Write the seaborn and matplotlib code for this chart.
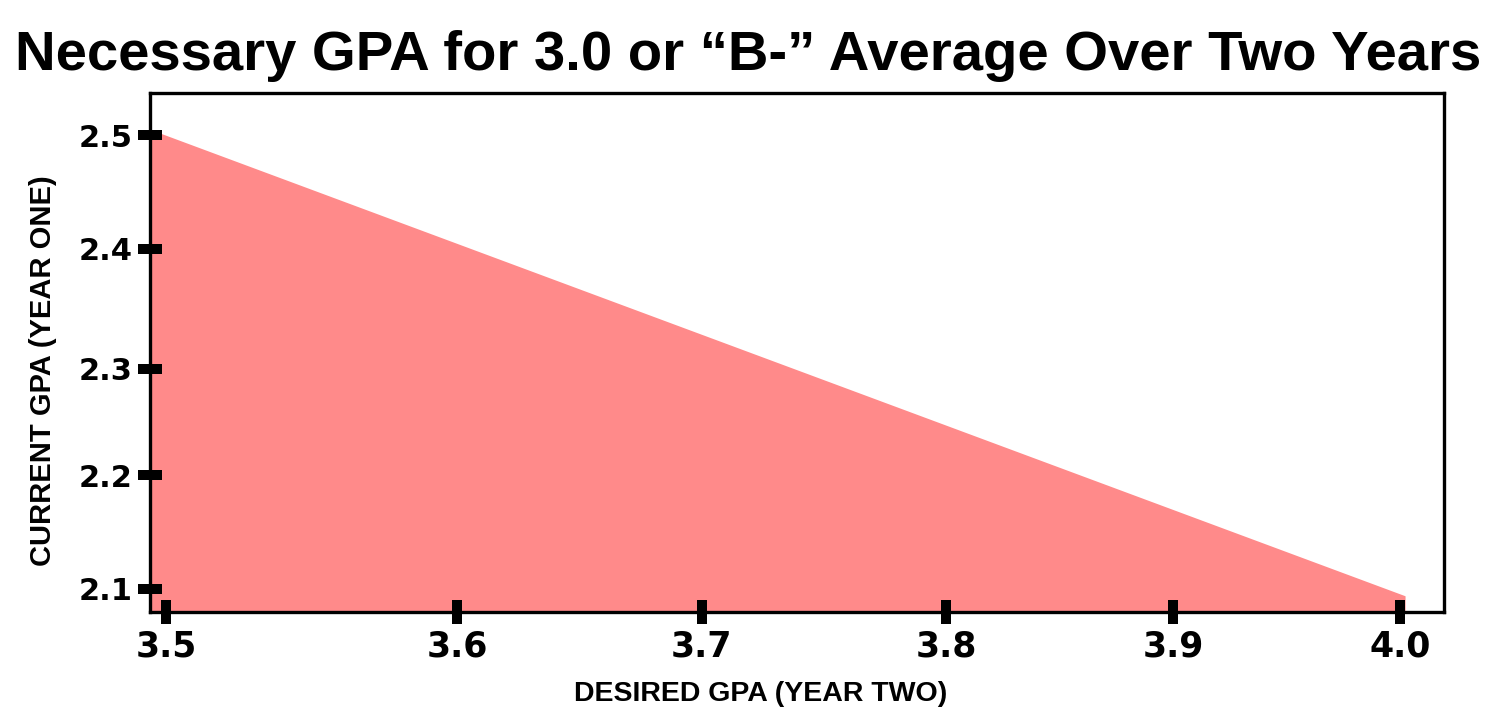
import matplotlib
matplotlib.use("Agg")
import matplotlib.pyplot as plt
import seaborn as sns
import pandas as pd

# desired GPA in year two vs. current GPA needed in year one
desired_gpa = [3.4935, 4.002]
current_gpa = [2.505, 2.094]

x_tick_pos = [3.5, 3.618, 3.717, 3.816, 3.908, 4.0]
x_tick_labels = ["3.5", "3.6", "3.7", "3.8", "3.9", "4.0"]
y_tick_pos = [2.1, 2.2, 2.294, 2.4, 2.5]
y_tick_labels = ["2.1", "2.2", "2.3", "2.4", "2.5"]

df = pd.DataFrame({"desired": desired_gpa, "current": current_gpa})

sns.set_style("white")
plt.rcParams['font.family'] = ['Liberation Sans', 'DejaVu Sans']
plt.rcParams['text.color'] = 'black'
plt.rcParams['axes.labelcolor'] = 'black'
plt.rcParams['xtick.color'] = 'black'
plt.rcParams['ytick.color'] = 'black'

fig = plt.figure(figsize=(15, 7.2), dpi=100)
ax = fig.add_axes([0.1, 0.15, 0.8627, 0.7208])
ax.set_axisbelow(False)

ymin = 2.0797
sns.lineplot(data=df, x="desired", y="current", ax=ax, color="#ff8a8a", linewidth=0)
ax.fill_between(df["desired"], df["current"], ymin, color="#ff8a8a", linewidth=0, zorder=1)

ax.set_xlim(3.4935, 4.0178)
ax.set_ylim(ymin, 2.537)

ax.set_xticks(x_tick_pos)
ax.set_xticklabels(x_tick_labels, fontsize=25, fontweight="bold", family=["DejaVu Sans"])
ax.set_yticks(y_tick_pos)
ax.set_yticklabels(y_tick_labels, fontsize=22, fontweight="bold", family=["DejaVu Sans"])
ax.tick_params(axis="both", bottom=True, left=True, direction="inout",
               length=17, width=7.2, color="black", labelcolor="black", pad=4)

for s in ax.spines.values():
    s.set_linewidth(2.4)
    s.set_color("black")
    s.set_zorder(3)

ax.set_xlabel("DESIRED GPA (YEAR TWO)", fontsize=20.5, fontweight="bold")
ax.set_ylabel("CURRENT GPA (YEAR ONE)", fontsize=21, fontweight="bold")
ax.xaxis.set_label_coords(0.4718, -0.133)
ax.yaxis.set_label_coords(-0.072, 0.466)

fig.text(0.4985, 0.922, "Necessary GPA for 3.0 or \u201cB-\u201d Average Over Two Years",
         ha="center", va="center", fontsize=40.5, fontweight="bold", color="black")

fig.savefig("out.png", dpi=100, facecolor="white")
